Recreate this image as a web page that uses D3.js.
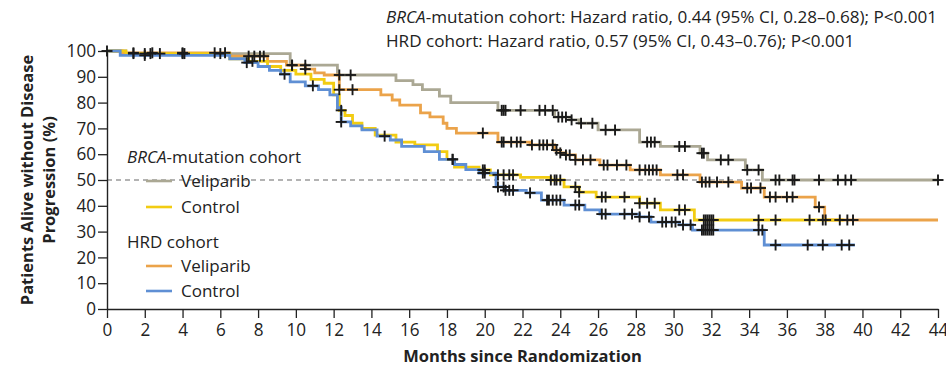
<!DOCTYPE html>
<html>
<head>
<meta charset="utf-8">
<script src="https://cdn.jsdelivr.net/npm/d3@7"></script>
<style>
  html, body { margin: 0; padding: 0; background: #fff; }
  svg { display: block; }
  .lbl { font-family: "Open Sans", "Noto Sans", sans-serif; fill: #222; }
</style>
</head>
<body>
<svg id="chart" width="946" height="370"></svg>
<script>
// Kaplan-Meier step points: [month, percent] at each event
const brcaVeliparib = [
  [0, 100], [1.0, 99], [9.7, 94.5], [12.2, 90.7], [15.3, 88.5], [16.2, 87], [16.7, 85],
  [17.6, 82.5], [18.2, 80], [20.7, 77], [23.7, 74.4], [24.5, 73.3], [25.0, 72], [26.0, 69.4],
  [28.2, 64.7], [29.3, 63], [31.4, 60.4], [31.8, 57.8], [33.8, 53.9], [34.7, 50]
];
const brcaControl = [
  [0, 100], [1.0, 99], [6.5, 97], [7.5, 96], [8.5, 94], [9.2, 92.5], [10.0, 91], [10.8, 89],
  [11.5, 87.5], [12.0, 83], [12.3, 77], [12.6, 75], [13.0, 72], [13.5, 70], [14.2, 67.4],
  [15.3, 64.7], [16.3, 63.6], [17.5, 61], [18.0, 58], [18.4, 55], [19.7, 53.9], [20.3, 52],
  [21.9, 51], [23.5, 50], [24.2, 47.3], [25.0, 45.3], [25.9, 43.4], [28.2, 41], [29.3, 38.4],
  [31.1, 34.5]
];
const hrdVeliparib = [
  [0, 100], [0.8, 99.3], [6.5, 98], [8.5, 96], [9.5, 94.5], [10.5, 93], [11.0, 91.5],
  [11.5, 90.7], [12.3, 85], [14.5, 83], [15.1, 81], [15.5, 79], [16.6, 76], [17.1, 74.5],
  [17.8, 72], [18.0, 70], [18.5, 68.2], [20.7, 64.7], [22.4, 63.6], [23.7, 61.6], [24.0, 60.5],
  [24.3, 59.7], [24.8, 57.8], [26.1, 55.8], [27.7, 53.9], [29.3, 52], [31.4, 49.2],
  [33.6, 46.9], [34.8, 43.4], [37.5, 39.5], [38.0, 34.5]
];
const hrdControl = [
  [0, 100], [0.7, 98.3], [6.5, 97], [7.3, 95.5], [8.0, 94], [8.6, 92.5], [9.2, 91], [9.7, 88],
  [10.5, 86.5], [11.2, 85], [11.8, 83], [12.2, 78], [12.4, 72.5], [12.9, 71], [13.5, 69.4],
  [14.3, 67], [15.0, 65.5], [15.6, 63], [16.8, 61], [17.6, 58], [18.4, 56], [19.0, 54],
  [19.7, 52.7], [20.6, 47.3], [21.1, 46], [22.2, 45], [23.0, 42.2], [24.2, 40.3], [25.3, 38.4],
  [26.1, 36.8], [28.2, 35.7], [28.8, 33.7], [30.3, 32.6], [31.0, 30.6], [34.8, 24.8]
];

// Last follow-up month of each curve
const brcaVeliparibEnd = 44;
const brcaControlEnd = 39;
const hrdVeliparibEnd = 44;
const hrdControlEnd = 39.6;

// Censoring times (months)
const brcaVeliparibCensor = [0, 1.4, 2.3, 2.8, 4.1, 6.0, 9.8, 10.5, 12.3, 12.9, 20.9, 21.0, 21.1, 21.9, 22.9,
  23.2, 23.6, 23.9, 24.1, 24.3, 24.6, 25.1, 25.7, 26.4, 26.9, 28.6, 28.8, 29.0, 30.3, 30.6, 31.5,
  31.6, 32.5, 32.9, 33.9, 34.5, 35.4, 35.6, 36.3, 36.4, 37.7, 38.7, 39.1, 39.4, 44];
const brcaControlCensor = [2.0, 4.0, 7.7, 12.4, 18.3, 19.9, 20.0, 20.7, 21.0, 21.3, 21.5, 23.5, 23.7,
  23.8, 24.0, 24.8, 25.0, 26.2, 26.4, 27.4, 28.2, 28.6, 29.0, 30.3, 30.6, 31.6, 31.7, 31.8, 31.9,
  32.0, 32.1, 34.5, 35.4, 37.2, 37.9];
const hrdVeliparibCensor = [1.4, 2.4, 4.0, 5.7, 6.25, 7.5, 7.8, 8.1, 8.3, 9.8, 10.5, 12.3, 13.0, 19.9,
  20.9, 21.0, 21.4, 21.7, 21.9, 22.5, 22.9, 23.1, 23.3, 23.6, 23.8, 24.0, 24.3, 24.5, 24.8, 25.2,
  25.6, 26.3, 26.5, 27.0, 27.5, 28.2, 28.5, 28.7, 28.9, 29.1, 30.2, 30.5, 31.5, 31.7, 31.9, 32.3,
  32.9, 33.9, 34.1, 34.6, 35.1, 35.4, 36.0, 36.3, 37.7, 38.05, 38.8, 39.2, 39.5];
const hrdControlCensor = [2.0, 7.4, 9.4, 10.9, 12.4, 14.7, 18.3, 19.9, 20.0, 20.7, 21.0, 21.1, 21.3,
  21.5, 22.4, 23.3, 23.4, 23.6, 23.8, 24.0, 24.8, 25.0, 26.2, 26.4, 27.4, 27.8, 28.2, 28.7, 29.4,
  29.6, 29.9, 30.1, 30.5, 30.9, 31.5, 31.6, 31.7, 31.8, 31.9, 32.0, 32.1, 34.5, 34.7, 35.4, 37.1,
  37.9, 38.9, 39.3];

const xTicks = d3.range(0, 45, 2);
const yTicks = d3.range(0, 101, 10);

const series = [
  { steps: brcaVeliparib, end: brcaVeliparibEnd, censor: brcaVeliparibCensor, color: "#aba894" },
  { steps: hrdVeliparib, end: hrdVeliparibEnd, censor: hrdVeliparibCensor, color: "#eba34a" },
  { steps: brcaControl, end: brcaControlEnd, censor: brcaControlCensor, color: "#f2cc12" },
  { steps: hrdControl, end: hrdControlEnd, censor: hrdControlCensor, color: "#5f8fd4" }
];

const svg = d3.select("#chart");
const margin = { left: 107, right: 8, top: 51, bottom: 61 };
const W = 946, H = 370;

const x = d3.scaleLinear().domain([0, 44]).range([margin.left, W - margin.right]);
const y = d3.scaleLinear().domain([0, 100]).range([H - margin.bottom, margin.top]);

// Reference line at 50%
svg.append("line")
  .attr("x1", x(0)).attr("x2", x(44))
  .attr("y1", y(50)).attr("y2", y(50))
  .attr("stroke", "#9a9a9a").attr("stroke-width", 1.3)
  .attr("stroke-dasharray", "5,4");

// Axes
const xAxis = svg.append("g")
  .attr("transform", `translate(0,${y(0)})`)
  .call(d3.axisBottom(x).tickValues(xTicks).tickSize(9).tickPadding(4).tickSizeOuter(0));
const yAxis = svg.append("g")
  .attr("transform", `translate(${x(0)},0)`)
  .call(d3.axisLeft(y).tickValues(yTicks).tickSize(9).tickPadding(2).tickSizeOuter(0));
[xAxis, yAxis].forEach(g => {
  g.attr("font-family", "'Open Sans', 'Noto Sans', sans-serif").attr("font-size", 18);
  g.select(".domain").attr("stroke", "#222").attr("stroke-width", 1.4);
  g.selectAll(".tick line").attr("stroke", "#222").attr("stroke-width", 1.3);
  // condensed numerals: squeeze each label to ~10px per digit
  g.selectAll(".tick text")
    .attr("fill", "#222")
    .attr("textLength", function () { return this.textContent.length * 9.8; })
    .attr("lengthAdjust", "spacingAndGlyphs");
});
xAxis.selectAll(".tick text").attr("dy", "0.8em");

// Step value at time t
function valueAt(steps, t) {
  let v = steps[0][1];
  for (const [st, sv] of steps) { if (st <= t) v = sv; else break; }
  return v;
}

const line = d3.line().x(d => x(d[0])).y(d => y(d[1])).curve(d3.curveStepAfter);

series.forEach(s => {
  const pts = s.steps.concat([[s.end, s.steps[s.steps.length - 1][1]]]);
  svg.append("path")
    .datum(pts)
    .attr("d", line)
    .attr("fill", "none")
    .attr("stroke", s.color)
    .attr("stroke-width", 2.8);
});

// Censoring marks
const half = 5.5;
series.forEach(s => {
  const g = svg.append("g").attr("stroke", "#1a1a1a").attr("stroke-width", 1.9);
  s.censor.forEach(t => {
    const cx = x(t), cy = y(valueAt(s.steps, t));
    g.append("line").attr("x1", cx - half).attr("x2", cx + half).attr("y1", cy).attr("y2", cy);
    g.append("line").attr("x1", cx).attr("x2", cx).attr("y1", cy - half).attr("y2", cy + half);
  });
});

// Axis titles
svg.append("text").attr("class", "lbl")
  .attr("x", (x(0) + x(44)) / 2).attr("y", 362)
  .attr("text-anchor", "middle")
  .attr("font-size", 16.5).attr("font-weight", "bold")
  .text("Months since Randomization");

const yt = svg.append("text").attr("class", "lbl")
  .attr("transform", `translate(0,${y(50)}) rotate(-90)`)
  .attr("text-anchor", "middle")
  .attr("font-size", 16.5).attr("font-weight", "bold");
yt.append("tspan").attr("x", 0).attr("y", 33).text("Patients Alive without Disease");
yt.append("tspan").attr("x", 0).attr("y", 55).text("Progression (%)");

// Hazard ratio annotations
const hr = svg.append("text").attr("class", "lbl").attr("font-size", 17.1);
const hr1 = hr.append("tspan").attr("x", 386).attr("y", 23);
hr1.append("tspan").attr("font-style", "italic").text("BRCA");
hr1.append("tspan").text("-mutation cohort: Hazard ratio, 0.44 (95% CI, 0.28\u20130.68); P<0.001");
hr.append("tspan").attr("x", 386).attr("y", 47)
  .text("HRD cohort: Hazard ratio, 0.57 (95% CI, 0.43\u20130.76); P<0.001");

// Legend
const legend = [
  { head: true, italic: "BRCA", rest: "-mutation cohort", yy: 163 },
  { label: "Veliparib", color: "#aba894", yy: 187 },
  { label: "Control", color: "#f2cc12", yy: 213 },
  { head: true, italic: "", rest: "HRD cohort", yy: 248 },
  { label: "Veliparib", color: "#eba34a", yy: 272 },
  { label: "Control", color: "#5f8fd4", yy: 297 }
];
legend.forEach(d => {
  const t = svg.append("text").attr("class", "lbl").attr("font-size", 17).attr("y", d.yy);
  if (d.head) {
    t.attr("x", 127);
    if (d.italic) t.append("tspan").attr("font-style", "italic").text(d.italic);
    t.append("tspan").text(d.rest);
  } else {
    svg.append("line")
      .attr("x1", 146).attr("x2", 172)
      .attr("y1", d.yy - 6).attr("y2", d.yy - 6)
      .attr("stroke", d.color).attr("stroke-width", 2.6);
    t.attr("x", 181).text(d.label);
  }
});
</script>
</body>
</html>
